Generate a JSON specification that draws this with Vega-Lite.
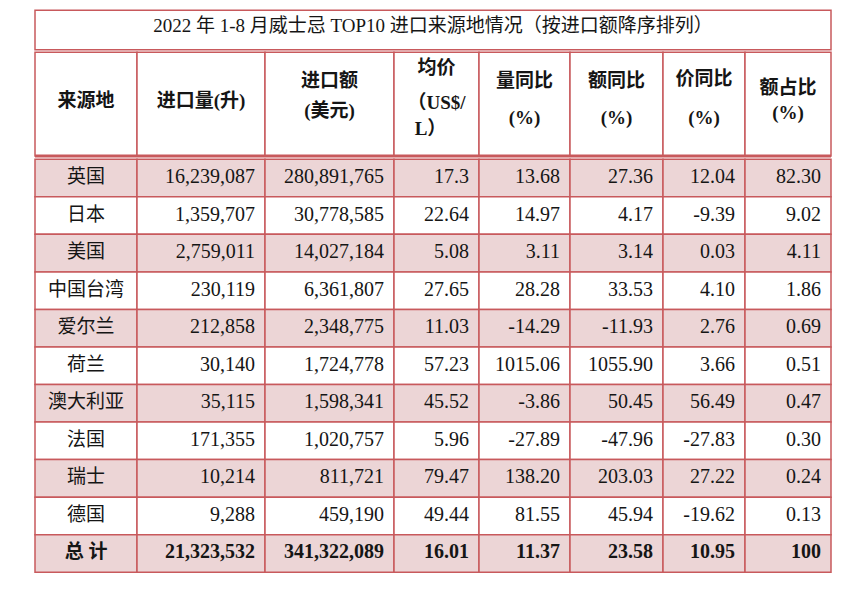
{
  "$schema": "https://vega.github.io/schema/vega-lite/v6.json",
  "background": "white",
  "padding": {"left": 33, "top": 9.25, "right": 0, "bottom": 0},
  "spacing": 0,
  "config": {
    "view": {"stroke": null},
    "text": {"font": "Liberation Serif, Noto Sans CJK SC", "fontSize": 20, "color": "#151515"},
    "rect": {"stroke": "#c8595c", "strokeWidth": 1.5},
    "concat": {"spacing": 0}
  },
  "datasets": {
    "t": [
      {"i": 1, "src": "英国", "vol": "16,239,087", "amt": "280,891,765", "price": "17.3", "vyoy": "13.68", "ayoy": "27.36", "pyoy": "12.04", "share": "82.30"},
      {"i": 2, "src": "日本", "vol": "1,359,707", "amt": "30,778,585", "price": "22.64", "vyoy": "14.97", "ayoy": "4.17", "pyoy": "-9.39", "share": "9.02"},
      {"i": 3, "src": "美国", "vol": "2,759,011", "amt": "14,027,184", "price": "5.08", "vyoy": "3.11", "ayoy": "3.14", "pyoy": "0.03", "share": "4.11"},
      {"i": 4, "src": "中国台湾", "vol": "230,119", "amt": "6,361,807", "price": "27.65", "vyoy": "28.28", "ayoy": "33.53", "pyoy": "4.10", "share": "1.86"},
      {"i": 5, "src": "爱尔兰", "vol": "212,858", "amt": "2,348,775", "price": "11.03", "vyoy": "-14.29", "ayoy": "-11.93", "pyoy": "2.76", "share": "0.69"},
      {"i": 6, "src": "荷兰", "vol": "30,140", "amt": "1,724,778", "price": "57.23", "vyoy": "1015.06", "ayoy": "1055.90", "pyoy": "3.66", "share": "0.51"},
      {"i": 7, "src": "澳大利亚", "vol": "35,115", "amt": "1,598,341", "price": "45.52", "vyoy": "-3.86", "ayoy": "50.45", "pyoy": "56.49", "share": "0.47"},
      {"i": 8, "src": "法国", "vol": "171,355", "amt": "1,020,757", "price": "5.96", "vyoy": "-27.89", "ayoy": "-47.96", "pyoy": "-27.83", "share": "0.30"},
      {"i": 9, "src": "瑞士", "vol": "10,214", "amt": "811,721", "price": "79.47", "vyoy": "138.20", "ayoy": "203.03", "pyoy": "27.22", "share": "0.24"},
      {"i": 10, "src": "德国", "vol": "9,288", "amt": "459,190", "price": "49.44", "vyoy": "81.55", "ayoy": "45.94", "pyoy": "-19.62", "share": "0.13"},
      {"i": 11, "src": "总     计", "vol": "21,323,532", "amt": "341,322,089", "price": "16.01", "vyoy": "11.37", "ayoy": "23.58", "pyoy": "10.95", "share": "100"}
    ]
  },
  "vconcat": [
    {
      "width": 796, "height": 39.5,
      "data": {"values": [{"title": "2022 年 1-8 月威士忌 TOP10 进口来源地情况（按进口额降序排列）"}]},
      "layer": [
        {"mark": {"type": "rect", "fill": "#ffffff"}, "encoding": {}},
        {"mark": {"type": "text", "fontSize": 19, "dy": -4}, "encoding": {"text": {"field": "title"}}}
      ]
    },
    {
      "bounds": "flush",
      "hconcat": [
        {"width": 102, "height": 103.75, "data": {"values": [{}]}, "layer": [
          {"mark": {"type": "rect", "fill": "#ffffff"}, "encoding": {}},
          {"mark": {"type": "rule", "color": "#c8595c", "strokeWidth": 3}, "encoding": {"y": {"value": "height"}}},
          {"mark": {"type": "text", "fontSize": 19, "fontWeight": "bold", "dy": -3}, "encoding": {"text": {"value": "来源地"}}}
        ]},
        {"width": 128, "height": 103.75, "data": {"values": [{}]}, "layer": [
          {"mark": {"type": "rect", "fill": "#ffffff"}, "encoding": {}},
          {"mark": {"type": "rule", "color": "#c8595c", "strokeWidth": 3}, "encoding": {"y": {"value": "height"}}},
          {"mark": {"type": "text", "fontSize": 19, "fontWeight": "bold", "dy": -3}, "encoding": {"text": {"value": "进口量(升)"}}}
        ]},
        {"width": 129, "height": 103.75, "data": {"values": [{}]}, "layer": [
          {"mark": {"type": "rect", "fill": "#ffffff"}, "encoding": {}},
          {"mark": {"type": "rule", "color": "#c8595c", "strokeWidth": 3}, "encoding": {"y": {"value": "height"}}},
          {"mark": {"type": "text", "fontSize": 19, "fontWeight": "bold", "dy": -23}, "encoding": {"text": {"value": "进口额"}}},
          {"mark": {"type": "text", "fontSize": 19, "fontWeight": "bold", "dy": 7}, "encoding": {"text": {"value": "(美元)"}}}
        ]},
        {"width": 85, "height": 103.75, "data": {"values": [{}]}, "layer": [
          {"mark": {"type": "rect", "fill": "#ffffff"}, "encoding": {}},
          {"mark": {"type": "rule", "color": "#c8595c", "strokeWidth": 3}, "encoding": {"y": {"value": "height"}}},
          {"mark": {"type": "text", "fontSize": 19, "fontWeight": "bold", "dy": -36}, "encoding": {"text": {"value": "均价"}}},
          {"mark": {"type": "text", "fontSize": 19, "fontWeight": "bold", "dy": -1}, "encoding": {"text": {"value": "（US$/"}}},
          {"mark": {"type": "text", "fontSize": 19, "fontWeight": "bold", "dy": 25, "dx": -6}, "encoding": {"text": {"value": "L）"}}}
        ]},
        {"width": 91, "height": 103.75, "data": {"values": [{}]}, "layer": [
          {"mark": {"type": "rect", "fill": "#ffffff"}, "encoding": {}},
          {"mark": {"type": "rule", "color": "#c8595c", "strokeWidth": 3}, "encoding": {"y": {"value": "height"}}},
          {"mark": {"type": "text", "fontSize": 19, "fontWeight": "bold", "dy": -23}, "encoding": {"text": {"value": "量同比"}}},
          {"mark": {"type": "text", "fontSize": 19, "fontWeight": "bold", "dy": 14}, "encoding": {"text": {"value": "(%)"}}}
        ]},
        {"width": 93, "height": 103.75, "data": {"values": [{}]}, "layer": [
          {"mark": {"type": "rect", "fill": "#ffffff"}, "encoding": {}},
          {"mark": {"type": "rule", "color": "#c8595c", "strokeWidth": 3}, "encoding": {"y": {"value": "height"}}},
          {"mark": {"type": "text", "fontSize": 19, "fontWeight": "bold", "dy": -23}, "encoding": {"text": {"value": "额同比"}}},
          {"mark": {"type": "text", "fontSize": 19, "fontWeight": "bold", "dy": 14}, "encoding": {"text": {"value": "(%)"}}}
        ]},
        {"width": 82, "height": 103.75, "data": {"values": [{}]}, "layer": [
          {"mark": {"type": "rect", "fill": "#ffffff"}, "encoding": {}},
          {"mark": {"type": "rule", "color": "#c8595c", "strokeWidth": 3}, "encoding": {"y": {"value": "height"}}},
          {"mark": {"type": "text", "fontSize": 19, "fontWeight": "bold", "dy": -25}, "encoding": {"text": {"value": "价同比"}}},
          {"mark": {"type": "text", "fontSize": 19, "fontWeight": "bold", "dy": 14}, "encoding": {"text": {"value": "(%)"}}}
        ]},
        {"width": 86, "height": 103.75, "data": {"values": [{}]}, "layer": [
          {"mark": {"type": "rect", "fill": "#ffffff"}, "encoding": {}},
          {"mark": {"type": "rule", "color": "#c8595c", "strokeWidth": 3}, "encoding": {"y": {"value": "height"}}},
          {"mark": {"type": "text", "fontSize": 19, "fontWeight": "bold", "dy": -16}, "encoding": {"text": {"value": "额占比"}}},
          {"mark": {"type": "text", "fontSize": 19, "fontWeight": "bold", "dy": 9}, "encoding": {"text": {"value": "(%)"}}}
        ]}
      ]
    },
    {
      "bounds": "flush",
      "hconcat": [
        {"width": 102, "height": 413, "data": {"name": "t"}, "layer": [
          {"mark": {"type": "rect"}, "encoding": {"y": {"field": "i", "type": "ordinal", "axis": null, "scale": {"paddingInner": 0, "paddingOuter": 0}}, "fill": {"condition": {"test": "datum.i % 2 == 1", "value": "#ecd5d6"}, "value": "#ffffff"}}},
          {"transform": [{"filter": "datum.i < 11"}], "mark": {"type": "text", "fontSize": 19, "dy": -1}, "encoding": {"y": {"field": "i", "type": "ordinal", "axis": null}, "text": {"field": "src"}}},
          {"transform": [{"filter": "datum.i == 11"}], "mark": {"type": "text", "fontSize": 19, "fontWeight": "bold", "dy": -1}, "encoding": {"y": {"field": "i", "type": "ordinal", "axis": null}, "text": {"field": "src"}}}
        ]},
        {"width": 128, "height": 413, "data": {"name": "t"}, "layer": [
          {"mark": {"type": "rect"}, "encoding": {"y": {"field": "i", "type": "ordinal", "axis": null, "scale": {"paddingInner": 0, "paddingOuter": 0}}, "fill": {"condition": {"test": "datum.i % 2 == 1", "value": "#ecd5d6"}, "value": "#ffffff"}}},
          {"transform": [{"filter": "datum.i < 11"}], "mark": {"type": "text", "align": "right", "dx": -10, "dy": -1}, "encoding": {"y": {"field": "i", "type": "ordinal", "axis": null}, "x": {"value": "width"}, "text": {"field": "vol"}}},
          {"transform": [{"filter": "datum.i == 11"}], "mark": {"type": "text", "align": "right", "dx": -10, "dy": -1, "fontWeight": "bold"}, "encoding": {"y": {"field": "i", "type": "ordinal", "axis": null}, "x": {"value": "width"}, "text": {"field": "vol"}}}
        ]},
        {"width": 129, "height": 413, "data": {"name": "t"}, "layer": [
          {"mark": {"type": "rect"}, "encoding": {"y": {"field": "i", "type": "ordinal", "axis": null, "scale": {"paddingInner": 0, "paddingOuter": 0}}, "fill": {"condition": {"test": "datum.i % 2 == 1", "value": "#ecd5d6"}, "value": "#ffffff"}}},
          {"transform": [{"filter": "datum.i < 11"}], "mark": {"type": "text", "align": "right", "dx": -10, "dy": -1}, "encoding": {"y": {"field": "i", "type": "ordinal", "axis": null}, "x": {"value": "width"}, "text": {"field": "amt"}}},
          {"transform": [{"filter": "datum.i == 11"}], "mark": {"type": "text", "align": "right", "dx": -10, "dy": -1, "fontWeight": "bold"}, "encoding": {"y": {"field": "i", "type": "ordinal", "axis": null}, "x": {"value": "width"}, "text": {"field": "amt"}}}
        ]},
        {"width": 85, "height": 413, "data": {"name": "t"}, "layer": [
          {"mark": {"type": "rect"}, "encoding": {"y": {"field": "i", "type": "ordinal", "axis": null, "scale": {"paddingInner": 0, "paddingOuter": 0}}, "fill": {"condition": {"test": "datum.i % 2 == 1", "value": "#ecd5d6"}, "value": "#ffffff"}}},
          {"transform": [{"filter": "datum.i < 11"}], "mark": {"type": "text", "align": "right", "dx": -10, "dy": -1}, "encoding": {"y": {"field": "i", "type": "ordinal", "axis": null}, "x": {"value": "width"}, "text": {"field": "price"}}},
          {"transform": [{"filter": "datum.i == 11"}], "mark": {"type": "text", "align": "right", "dx": -10, "dy": -1, "fontWeight": "bold"}, "encoding": {"y": {"field": "i", "type": "ordinal", "axis": null}, "x": {"value": "width"}, "text": {"field": "price"}}}
        ]},
        {"width": 91, "height": 413, "data": {"name": "t"}, "layer": [
          {"mark": {"type": "rect"}, "encoding": {"y": {"field": "i", "type": "ordinal", "axis": null, "scale": {"paddingInner": 0, "paddingOuter": 0}}, "fill": {"condition": {"test": "datum.i % 2 == 1", "value": "#ecd5d6"}, "value": "#ffffff"}}},
          {"transform": [{"filter": "datum.i < 11"}], "mark": {"type": "text", "align": "right", "dx": -10, "dy": -1}, "encoding": {"y": {"field": "i", "type": "ordinal", "axis": null}, "x": {"value": "width"}, "text": {"field": "vyoy"}}},
          {"transform": [{"filter": "datum.i == 11"}], "mark": {"type": "text", "align": "right", "dx": -10, "dy": -1, "fontWeight": "bold"}, "encoding": {"y": {"field": "i", "type": "ordinal", "axis": null}, "x": {"value": "width"}, "text": {"field": "vyoy"}}}
        ]},
        {"width": 93, "height": 413, "data": {"name": "t"}, "layer": [
          {"mark": {"type": "rect"}, "encoding": {"y": {"field": "i", "type": "ordinal", "axis": null, "scale": {"paddingInner": 0, "paddingOuter": 0}}, "fill": {"condition": {"test": "datum.i % 2 == 1", "value": "#ecd5d6"}, "value": "#ffffff"}}},
          {"transform": [{"filter": "datum.i < 11"}], "mark": {"type": "text", "align": "right", "dx": -10, "dy": -1}, "encoding": {"y": {"field": "i", "type": "ordinal", "axis": null}, "x": {"value": "width"}, "text": {"field": "ayoy"}}},
          {"transform": [{"filter": "datum.i == 11"}], "mark": {"type": "text", "align": "right", "dx": -10, "dy": -1, "fontWeight": "bold"}, "encoding": {"y": {"field": "i", "type": "ordinal", "axis": null}, "x": {"value": "width"}, "text": {"field": "ayoy"}}}
        ]},
        {"width": 82, "height": 413, "data": {"name": "t"}, "layer": [
          {"mark": {"type": "rect"}, "encoding": {"y": {"field": "i", "type": "ordinal", "axis": null, "scale": {"paddingInner": 0, "paddingOuter": 0}}, "fill": {"condition": {"test": "datum.i % 2 == 1", "value": "#ecd5d6"}, "value": "#ffffff"}}},
          {"transform": [{"filter": "datum.i < 11"}], "mark": {"type": "text", "align": "right", "dx": -10, "dy": -1}, "encoding": {"y": {"field": "i", "type": "ordinal", "axis": null}, "x": {"value": "width"}, "text": {"field": "pyoy"}}},
          {"transform": [{"filter": "datum.i == 11"}], "mark": {"type": "text", "align": "right", "dx": -10, "dy": -1, "fontWeight": "bold"}, "encoding": {"y": {"field": "i", "type": "ordinal", "axis": null}, "x": {"value": "width"}, "text": {"field": "pyoy"}}}
        ]},
        {"width": 86, "height": 413, "data": {"name": "t"}, "layer": [
          {"mark": {"type": "rect"}, "encoding": {"y": {"field": "i", "type": "ordinal", "axis": null, "scale": {"paddingInner": 0, "paddingOuter": 0}}, "fill": {"condition": {"test": "datum.i % 2 == 1", "value": "#ecd5d6"}, "value": "#ffffff"}}},
          {"transform": [{"filter": "datum.i < 11"}], "mark": {"type": "text", "align": "right", "dx": -10, "dy": -1}, "encoding": {"y": {"field": "i", "type": "ordinal", "axis": null}, "x": {"value": "width"}, "text": {"field": "share"}}},
          {"transform": [{"filter": "datum.i == 11"}], "mark": {"type": "text", "align": "right", "dx": -10, "dy": -1, "fontWeight": "bold"}, "encoding": {"y": {"field": "i", "type": "ordinal", "axis": null}, "x": {"value": "width"}, "text": {"field": "share"}}}
        ]}
      ]
    }
  ]
}
